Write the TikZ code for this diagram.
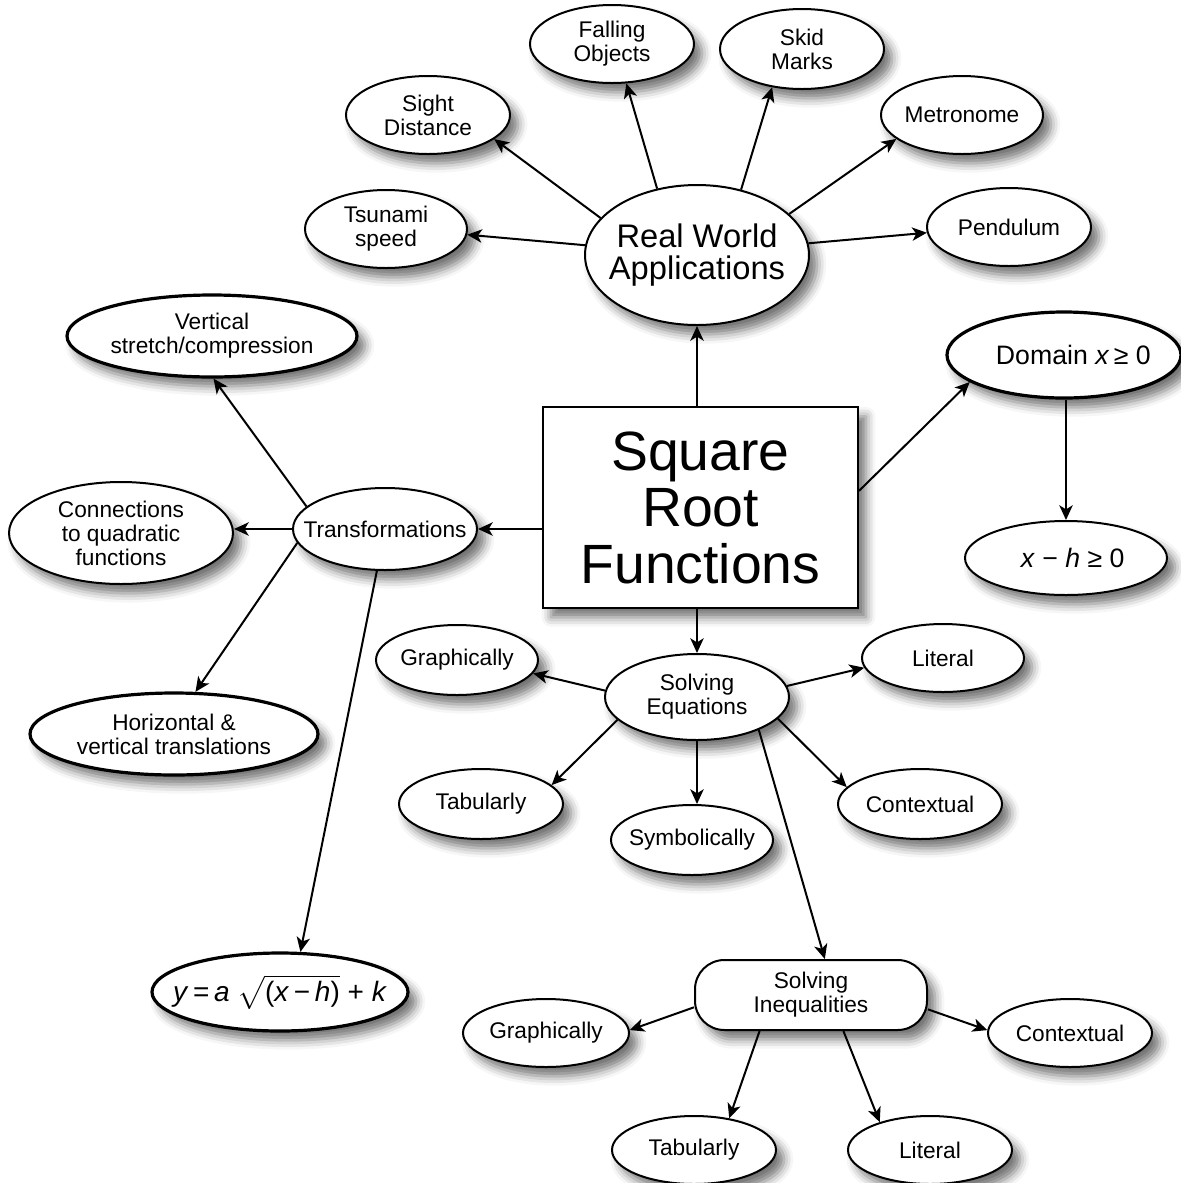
\documentclass[tikz,border=0pt]{standalone}
\usepackage{amsmath}
\usepackage{fontspec}
\setmainfont{Liberation Sans}
\usetikzlibrary{shapes.geometric,arrows.meta,shadows.blur,calc}
\begin{document}
\begin{tikzpicture}[x=0.75pt,y=-0.75pt,
  shd/.style={blur shadow={shadow xshift=6pt,shadow yshift=-7pt,shadow blur radius=7pt,shadow opacity=55}},
  ov/.style 2 args={ellipse,draw,line width=1.5pt,fill=white,shd,inner sep=-25pt,
    minimum width={1.5pt*#1},minimum height={1.5pt*#2},align=center,
    font=\fontsize{17}{18}\selectfont},
  heavy/.style={line width=2.4pt},
  boxnode/.style={rectangle,draw,line width=1.5pt,fill=white,shd,inner sep=0pt,align=center},
  arr/.style={line width=1.5pt,-{Stealth[length=11pt,width=10pt,inset=3pt]}},
]
\useasboundingbox (0,0) rectangle (1181,1183);

% Real world applications
\node[ov={112}{70},font=\fontsize{24.5}{24}\selectfont] (rwa) at (697,255) {Real World\\Applications};
\node[ov={82}{39}] (fall) at (612,44) {Falling\\Objects};
\node[ov={82}{40}] (skid) at (802,49) {Skid\\Marks};
\node[ov={82}{39}] (sight) at (428,115) {Sight\\Distance};
\node[ov={81}{39}] (metro) at (962,115) {Metronome};
\node[ov={81}{39}] (tsu) at (386,229) {Tsunami\\speed};
\node[ov={82}{39}] (pend) at (1009,227) {Pendulum};

% centre
\node[boxnode,minimum width=236.25pt,minimum height=150.75pt,font=\fontsize{41.5}{42.4}\selectfont] (srf) at (700.5,507.5) {Square\\Root\\Functions};

% domain
\node[ov={117}{43},heavy,font=\fontsize{20}{20}\selectfont] (dom) at (1064,355) {\hspace*{14pt}Domain \textit{x}\,≥ 0};
\node[ov={101}{37},font=\fontsize{20}{20}\selectfont] (xh) at (1066,558) {\hspace*{10pt}\textit{x} − \textit{h} ≥ 0};

% transformations
\node[ov={145}{41},heavy] (vert) at (212,336) {Vertical\\stretch/compression};
\node[ov={112}{51}] (conn) at (121,533) {Connections\\to quadratic\\functions};
\node[ov={92}{41}] (trans) at (385,529) {Transformations};
\node[ov={144}{41},heavy] (horiz) at (174,734) {Horizontal \&\\vertical translations};
\node[ov={128}{39},heavy,font=\fontsize{21}{21}\selectfont] (form) at (280,992) {\textit{y}\,=\,\textit{a} $\sqrt{\mbox{\rule[-4pt]{0pt}{19pt}(\textit{x}\,−\,\textit{h})}}$ + \textit{k}};

% solving equations
\node[ov={92}{43}] (se) at (697,697) {Solving\\Equations};
\node[ov={81}{35}] (geq) at (457,660) {Graphically};
\node[ov={81}{34}] (leq) at (943,658) {Literal};
\node[ov={82}{35}] (teq) at (481,804) {Tabularly};
\node[ov={81}{35}] (syeq) at (692,840) {Symbolically};
\node[ov={82}{35}] (ceq) at (920,804) {Contextual};

% solving inequalities
\node[boxnode,rounded corners=22pt,minimum width=174pt,minimum height=52.5pt,font=\fontsize{17}{18}\selectfont] (si) at (811,995) {Solving\\Inequalities};
\node[ov={83}{34}] (gin) at (546,1033) {Graphically};
\node[ov={82}{34}] (cin) at (1070,1033) {Contextual};
\node[ov={82}{34}] (tin) at (694,1150) {Tabularly};
\node[ov={82}{34}] (lin) at (930,1150) {Literal};

% connectors
\draw[arr] (rwa.175) -- (tsu.-4);
\draw[arr] (rwa.159) -- (sight.-20);
\draw[arr] (rwa.121) -- (fall.-70);
\draw[arr] (rwa.56) -- (skid.-128);
\draw[arr] (rwa.24) -- (metro.-160);
\draw[arr] (rwa.6) -- (pend.-176);
\draw[arr] (srf.north -| rwa.south) -- (rwa.south);
\draw[arr] (srf.6) -- (dom.-164);
\draw[arr] (dom.south -| xh.north) -- (xh.north);
\draw[arr] (srf.west |- trans.east) -- (trans.east);
\draw[arr] (trans.164) -- (vert.-88);
\draw[arr] (trans.west) -- (trans.west -| conn.east);
\draw[arr] (trans.-171) -- (horiz.63);
\draw[arr] (trans.-101) -- (form.63);
\draw[arr] (srf.south -| se.north) -- (se.north);
\draw[arr] (se.176) -- (geq.-10);
\draw[arr] (se.7) -- (leq.-173);
\draw[arr] (se.-164) -- (teq.15);
\draw[arr] (se.south) -- (se.south |- syeq.north);
\draw[arr] (se.-15) -- (ceq.167);
\draw[arr] (se.-28) -- (si.69);
\draw[arr] (si.-174) -- (gin.2);
\draw[arr] (si.-7) -- (cin.178);
\draw[arr] (si.-145) -- (tin.42);
\draw[arr] (si.-48) -- (lin.151);
\end{tikzpicture}
\end{document}
